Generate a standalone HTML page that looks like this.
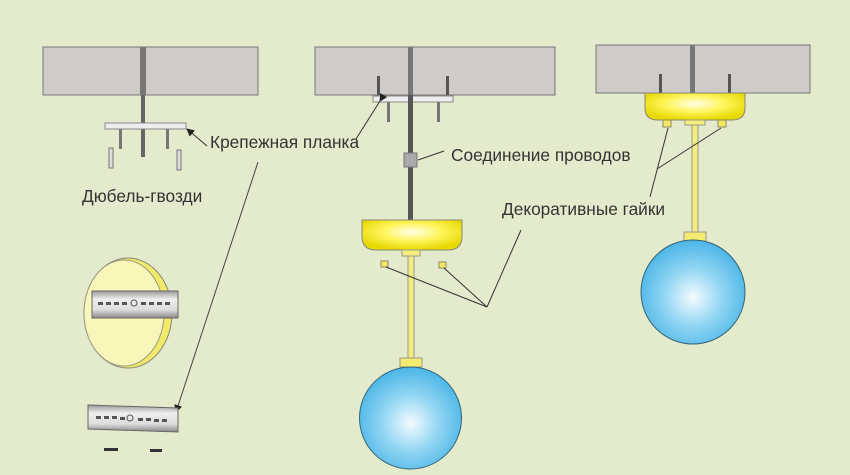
<!DOCTYPE html>
<html><head><meta charset="utf-8"><style>
html,body{margin:0;padding:0;background:#e4ebcd;}
svg{display:block;}
text{font-family:"Liberation Sans",sans-serif;font-size:17.3px;fill:#333;}
</style></head><body>
<svg width="850" height="475" viewBox="0 0 850 475" xmlns="http://www.w3.org/2000/svg">
<defs>
<radialGradient id="yg" cx="50%" cy="40%" r="60%"><stop offset="0" stop-color="#ffffe8"/><stop offset="0.5" stop-color="#fff45a"/><stop offset="1" stop-color="#e6d800"/></radialGradient>
<radialGradient id="bg" cx="50%" cy="55%" r="55%"><stop offset="0" stop-color="#f4fbff"/><stop offset="0.5" stop-color="#92d6f3"/><stop offset="1" stop-color="#4bb5e6"/></radialGradient>
<linearGradient id="sg" x1="0" y1="0" x2="0" y2="1"><stop offset="0" stop-color="#999"/><stop offset="0.3" stop-color="#eee"/><stop offset="0.7" stop-color="#ddd"/><stop offset="1" stop-color="#888"/></linearGradient>
<marker id="ar" markerWidth="8" markerHeight="8" refX="7" refY="4" orient="auto" markerUnits="userSpaceOnUse"><path d="M0,0 L8,4 L0,8 z" fill="#222"/></marker>
</defs>
<g stroke="#777" stroke-width="1">
<rect x="43" y="47" width="215" height="48" fill="#cfcbc9"/>
<rect x="315" y="47" width="240" height="48" fill="#cfcbc9"/>
<rect x="596" y="45" width="214" height="48" fill="#cfcbc9"/>
</g>
<!-- panel 1 -->
<rect x="140" y="47" width="6" height="48" fill="#777"/>
<rect x="141" y="95" width="4" height="62" fill="#666"/>
<rect x="105" y="123" width="81" height="6" fill="#eee" stroke="#888"/>
<rect x="119" y="129" width="3" height="20" fill="#777"/>
<rect x="166" y="129" width="3" height="20" fill="#777"/>
<rect x="109" y="148" width="4" height="20" fill="#ddd" stroke="#777"/>
<rect x="177" y="150" width="4" height="20" fill="#ddd" stroke="#777"/>
<line x1="207" y1="146" x2="187" y2="129" stroke="#333" marker-end="url(#ar)"/>
<text x="210" y="148">Крепежная планка</text>
<text x="82" y="202">Дюбель-гвозди</text>
<line x1="258" y1="162" x2="176" y2="412" stroke="#444" marker-end="url(#ar)"/>
<ellipse cx="128" cy="313" rx="44" ry="55" fill="#f0e96a" stroke="#887" />
<ellipse cx="124" cy="313" rx="40" ry="53" fill="#f8f6b8" stroke="#998"/>
<rect x="92" y="291" width="86" height="27" fill="url(#sg)" stroke="#666"/>
<g fill="#555"><rect x="98" y="302" width="5" height="3"/><rect x="106" y="302" width="5" height="3"/><rect x="114" y="302" width="5" height="3"/><rect x="122" y="302" width="5" height="3"/><circle cx="134" cy="303" r="3" fill="none" stroke="#555"/><rect x="141" y="302" width="5" height="3"/><rect x="149" y="302" width="5" height="3"/><rect x="157" y="302" width="5" height="3"/><rect x="165" y="302" width="5" height="3"/></g>
<path d="M88,405 L178,408 L178,432 L88,429 Z" fill="url(#sg)" stroke="#666"/>
<g fill="#555"><rect x="96" y="416" width="5" height="3"/><rect x="104" y="416" width="5" height="3"/><rect x="112" y="416" width="5" height="3"/><rect x="120" y="417" width="5" height="3"/><circle cx="130" cy="418" r="3" fill="none" stroke="#555"/><rect x="138" y="418" width="5" height="3"/><rect x="146" y="418" width="5" height="3"/><rect x="154" y="419" width="5" height="3"/><rect x="162" y="419" width="5" height="3"/></g>
<rect x="104" y="448" width="14" height="3" fill="#333"/><rect x="150" y="449" width="12" height="3" fill="#333"/>
<!-- panel 2 -->
<rect x="408" y="47" width="5" height="48" fill="#777"/>
<rect x="377" y="76" width="3" height="19" fill="#555"/><rect x="446" y="76" width="3" height="19" fill="#555"/>
<rect x="373" y="96" width="80" height="6" fill="#eee" stroke="#888"/>
<rect x="387" y="102" width="3" height="20" fill="#777"/><rect x="437" y="102" width="3" height="20" fill="#777"/>
<rect x="408" y="95" width="5" height="125" fill="#555"/>
<rect x="404" y="153" width="13" height="14" fill="#aaa" stroke="#777"/>
<line x1="380" y1="101" x2="356" y2="139" stroke="#333" marker-start="url(#ar)"/>
<line x1="418" y1="160" x2="444" y2="151" stroke="#333"/>
<text x="451" y="161">Соединение проводов</text>
<path d="M362,220 H462 V236 Q462,250 448,250 H376 Q362,250 362,236 Z" fill="url(#yg)" stroke="#887"/>
<rect x="402" y="250" width="18" height="6" fill="#f5ef80" stroke="#998"/>
<rect x="408" y="256" width="6" height="102" fill="#f3ec80" stroke="#998"/>
<rect x="381" y="261" width="7" height="6" fill="#f3e860" stroke="#886"/><rect x="439" y="262" width="7" height="6" fill="#f3e860" stroke="#886"/>
<g stroke="#333"><line x1="386" y1="267" x2="487" y2="307"/><line x1="444" y1="268" x2="487" y2="307"/><line x1="487" y1="307" x2="521" y2="230"/></g>
<rect x="400" y="358" width="22" height="9" fill="#f3ec70" stroke="#998"/>
<circle cx="410.5" cy="418" r="51" fill="url(#bg)" stroke="#367"/>
<!-- panel 3 -->
<rect x="690" y="45" width="5" height="48" fill="#777"/>
<rect x="659" y="74" width="3" height="19" fill="#555"/><rect x="728" y="74" width="3" height="19" fill="#555"/>
<path d="M645,93 H745 V108 Q745,120 732,120 H658 Q645,120 645,108 Z" fill="url(#yg)" stroke="#887"/>
<rect x="663" y="120" width="8" height="7" fill="#f3e860" stroke="#886"/><rect x="685" y="120" width="20" height="5" fill="#f5ef80" stroke="#998"/><rect x="718" y="120" width="8" height="7" fill="#f3e860" stroke="#886"/>
<rect x="692" y="125" width="6" height="107" fill="#f3ec80" stroke="#998"/>
<g stroke="#333"><line x1="668" y1="128" x2="650" y2="197"/><line x1="721" y1="128" x2="657" y2="169"/></g>
<text x="502" y="215">Декоративные гайки</text>
<rect x="684" y="232" width="22" height="9" fill="#f3ec70" stroke="#998"/>
<circle cx="693" cy="292" r="52" fill="url(#bg)" stroke="#367"/>
</svg>
</body></html>
